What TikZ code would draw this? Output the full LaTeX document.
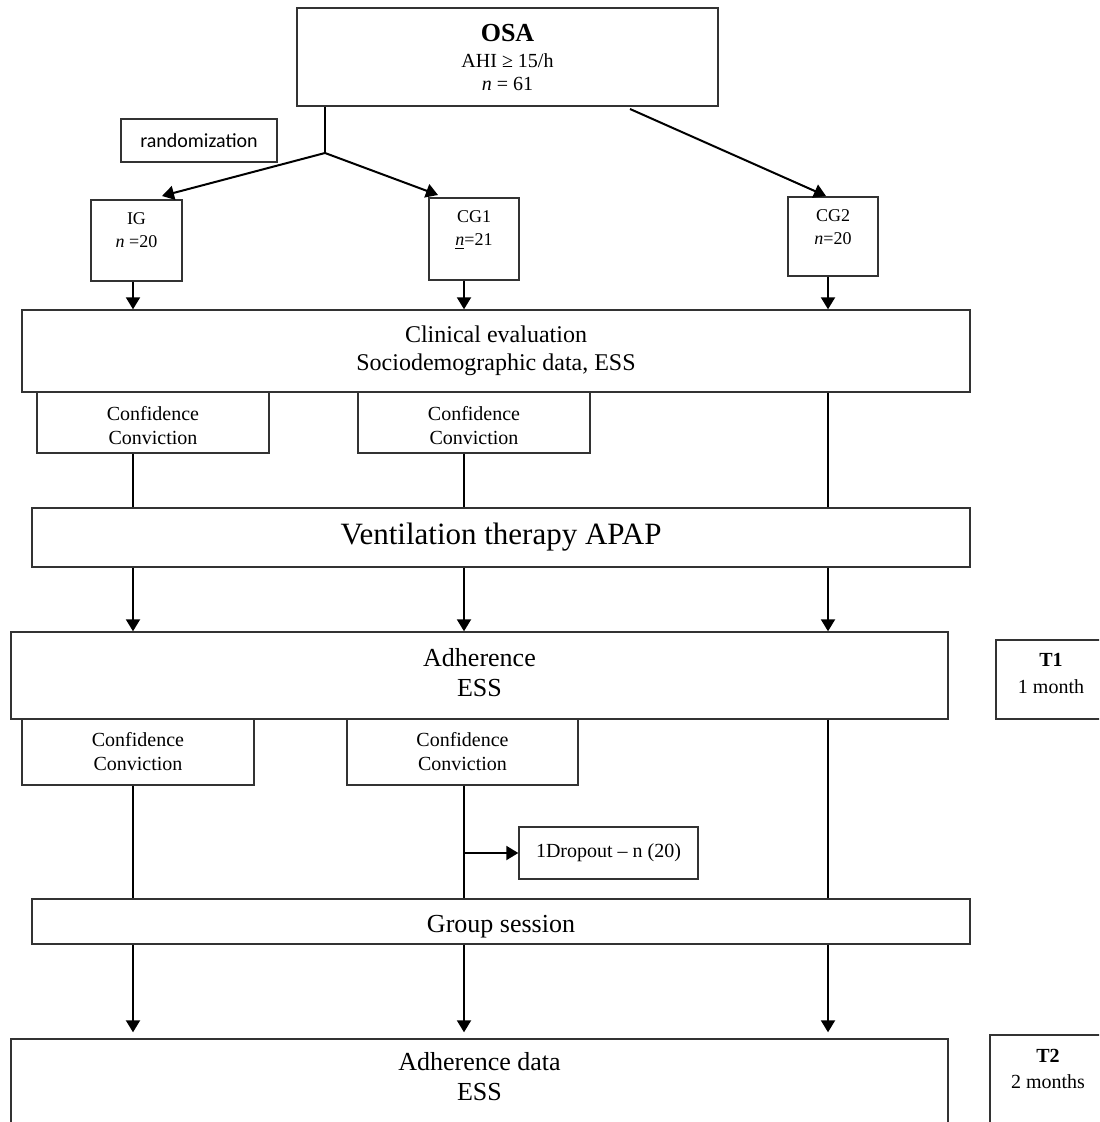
\documentclass[tikz,border=0pt]{standalone}
\usepackage{fontspec}
\setmainfont{Liberation Serif}
\newfontfamily\calibrifont{Carlito}
\usetikzlibrary{arrows.meta}

\tikzset{
	box/.style={draw=black!80, line width=0.7pt, align=center, inner sep=0pt},
	boxsize/.style 2 args={minimum width=#1*0.5pt, minimum height=#2*0.5pt},
	flow/.style={line width=1pt, -{Triangle[length=6pt,width=7pt]}},
	link/.style={line width=1pt},
	grptext/.style={font=\fontsize{9}{11.5}\selectfont},
	smalltext/.style={font=\fontsize{10}{12}\selectfont},
	midtext/.style={font=\fontsize{12}{14}\selectfont},
	bigtext/.style={font=\fontsize{13}{15}\selectfont}
}

\begin{document}
\begin{tikzpicture}[x=0.5pt,y=-0.5pt]
	\clip (0,0) rectangle (1099,1122);
	% columns of the three groups
	\coordinate (colA) at (133,0);
	\coordinate (colB) at (464,0);
	\coordinate (colC) at (828,0);
	\coordinate (fork) at (325,153);
	\coordinate (osaout) at (630,109);
	\coordinate (igin) at (162,196);
	\coordinate (cgain) at (438,195);
	\coordinate (cgbin) at (826,196);

	% sample and randomization
	\node[box,boxsize={421}{98},smalltext] (osa) at (507.5,57)
		{{\fontsize{13}{13}\selectfont\bfseries OSA}\\[1pt] AHI ≥ 15/h\\[-0.5pt] \textit{n} = 61};
	\node[box,boxsize={156}{43},font=\calibrifont\fontsize{10}{12}\selectfont] (rand) at (199,140.5) {randomization};

	% groups
	\node[box,boxsize={91}{81},grptext] (ig) at (136.5,240.5) {IG\\\textit{n} =20\\[-1.5pt]};
	\node[box,boxsize={90}{82},grptext] (cga) at (474,239) {CG1\\\underline{\textit{n}}=21\\[-0.5pt]};
	\node[box,boxsize={90}{79},grptext] (cgb) at (833,236.5) {CG2\\\textit{n}=20\\[-2.5pt]};

	% baseline
	\node[box,boxsize={948}{82},midtext] (clin) at (496,351) {Clinical evaluation\\Sociodemographic data, ESS};
	\node[box,boxsize={232}{61},smalltext] (confA) at (153,422.5) {Confidence\\Conviction\\[-15pt]};
	\node[box,boxsize={232}{61},smalltext] (confB) at (474,422.5) {Confidence\\Conviction\\[-15pt]};
	\node[box,boxsize={938}{59},font=\fontsize{15.5}{18}\selectfont] (vent) at (501,537.5) {Ventilation therapy APAP};

	% T1
	\node[box,boxsize={937}{87},bigtext] (adh) at (479.5,675.5) {Adherence\\ESS\\[-12pt]};
	\node[box,boxsize={110}{79}] (tone) at (1051,679.5) {};
	\node[font=\fontsize{10}{13.5}\selectfont,align=center] (tonetext) at (1051,673.5) {\textbf{T1}\\1 month};
	\node[box,boxsize={232}{66},smalltext] (confC) at (138,752) {Confidence\\Conviction};
	\node[box,boxsize={231}{66},smalltext] (confD) at (462.5,752) {Confidence\\Conviction};
	\node[box,boxsize={179}{52},smalltext] (drop) at (608.5,853) {1Dropout – n (20)};
	\node[box,boxsize={938}{45}] (group) at (501,921.5) {};
	\node[bigtext] (grouptext) at (501,926.5) {Group session};

	% T2
	\node[box,boxsize={937}{101}] (adhdata) at (479.5,1089.5) {};
	\node[bigtext,align=center] (adhdatatext) at (479.5,1077) {Adherence data\\ESS};
	\node[box,boxsize={116}{105}] (ttwo) at (1048,1087.5) {};
	\node[font=\fontsize{10}{13}\selectfont,align=center] (ttwotext) at (1048,1069) {\textbf{T2}\\2 months};

	% connectors
	\draw[link] (fork |- osa.south) -- (fork);
	\draw[flow] (fork) -- (igin);
	\draw[flow] (fork) -- (cgain);
	\draw[flow] (osaout) -- (cgbin);
	\foreach \col/\grp in {colA/ig,colB/cga,colC/cgb}
		\draw[flow] (\col |- \grp.south) -- (\col |- clin.north);
	\draw[link] (colA |- confA.south) -- (colA |- vent.north);
	\draw[link] (colB |- confB.south) -- (colB |- vent.north);
	\draw[link] (colC |- clin.south) -- (colC |- vent.north);
	\foreach \col in {colA,colB,colC}
		\draw[flow] (\col |- vent.south) -- (\col |- adh.north);
	\draw[link] (colA |- confC.south) -- (colA |- group.north);
	\draw[link] (colB |- confD.south) -- (colB |- group.north);
	\draw[link] (colC |- adh.south) -- (colC |- group.north);
	\draw[flow] (colB |- drop.west) -- (drop.west);
	\foreach \col in {colA,colB,colC}
		\draw[flow] (\col |- group.south) -- ([yshift=3pt]\col |- adhdata.north);
\end{tikzpicture}
\end{document}
